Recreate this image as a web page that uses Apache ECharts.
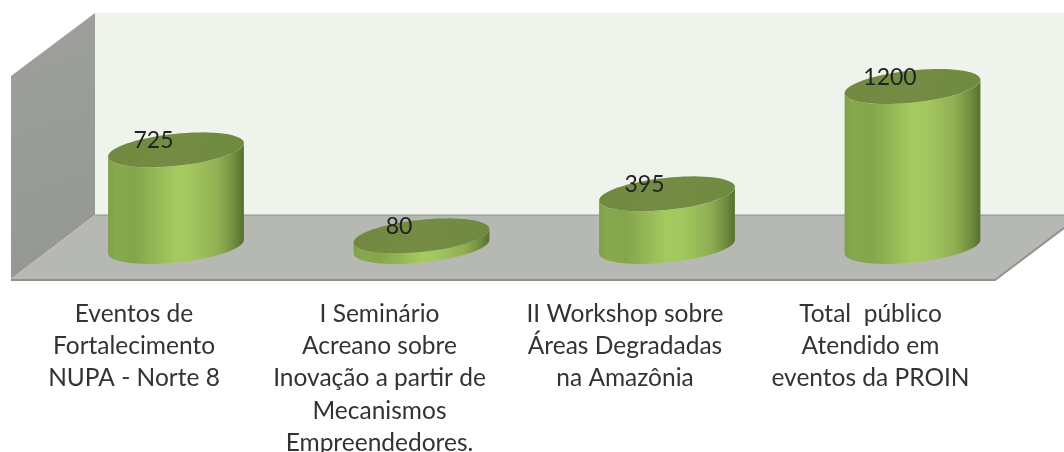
<!DOCTYPE html>
<html><head><meta charset="utf-8">
<style>html,body{margin:0;padding:0;background:#fff}#c{width:1064px;height:452px;filter:blur(0.5px)}</style>
<script src="https://cdn.jsdelivr.net/npm/echarts@6/dist/echarts.min.js"></script>
</head><body><div id="c"></div>
<script>
const categories = [
  "Eventos de\nFortalecimento\nNUPA - Norte 8",
  "I Seminário\nAcreano sobre\nInovação a partir de\nMecanismos\nEmpreendedores.",
  "II Workshop sobre\nÁreas Degradadas\nna Amazônia",
  "Total  público\nAtendido em\neventos da PROIN"
];
const values = [725, 80, 395, 1200];

const TILT = 6 * Math.PI / 180;
function ellipsePoint(cx, cy, a, b, t) {
  const x = a * Math.cos(t), y = b * Math.sin(t);
  return [cx + x * Math.cos(TILT) + y * Math.sin(TILT), cy - x * Math.sin(TILT) + y * Math.cos(TILT)];
}
function renderCylinder(params, api) {
  const i = api.value(0), v = api.value(1);
  const top = api.coord([i, v]), base = api.coord([i, 0]);
  const a = api.size([1, 0])[0] * 0.278, b = a * 0.235;
  const tan = Math.atan2(b * Math.sin(TILT), a * Math.cos(TILT));
  const tr = tan, tl = tan + Math.PI;
  const pts = [];
  const n = 72;
  for (let k = 0; k <= n; k++) pts.push(ellipsePoint(base[0], base[1], a, b, tr + (tl - tr) * k / n));
  pts.push(ellipsePoint(top[0], top[1], a, b, tl));
  for (let k = 1; k < n; k++) pts.push(ellipsePoint(top[0], top[1], a, b, tl + (tr - tl) * k / n));
  pts.push(ellipsePoint(top[0], top[1], a, b, tr));
  const lid = [];
  for (let k = 0; k < n; k++) lid.push(ellipsePoint(top[0], top[1], a, b, 2 * Math.PI * k / n));
  const side = new echarts.graphic.LinearGradient(0, 0, 1, 0, [
    {offset: 0, color: '#80a049'}, {offset: 0.06, color: '#87a94d'}, {offset: 0.2, color: '#84a54b'},
    {offset: 0.5, color: '#a5ca60'}, {offset: 0.6, color: '#a3c85f'}, {offset: 0.82, color: '#8fae52'},
    {offset: 0.93, color: '#708d3f'}, {offset: 1, color: '#54702d'}
  ]);
  const cap = new echarts.graphic.LinearGradient(0, 0, 1, 1, [
    {offset: 0, color: '#71893f'}, {offset: 0.5, color: '#748c43'}, {offset: 1, color: '#6f8a40'}
  ]);
  return {
    type: 'group',
    children: [
      {type: 'polygon', shape: {points: pts}, style: {fill: side}},
      {type: 'polygon', shape: {points: lid}, style: {fill: cap}},
      {type: 'text', x: top[0] - a * 0.33, y: top[1] - 9, style: {
        text: String(v), fill: '#222', font: '23px Lato', align: 'center', verticalAlign: 'middle'
      }}
    ]
  };
}
const chart = echarts.init(document.getElementById('c'), null, {renderer: 'canvas'});
chart.setOption({
  animation: false,
  backgroundColor: '#fff',
  graphic: {elements: [
    {type: 'polygon', z: 0, shape: {points: [[95, 13], [1064, 13], [1064, 215], [95, 215]]}, style: {fill: '#eef4eb'}},
    {type: 'polygon', z: 0, shape: {points: [[11, 76], [95, 13], [95, 215], [11, 279]]},
      style: {fill: new echarts.graphic.LinearGradient(0, 0, 1, 1, [{offset: 0, color: '#9ea09c'}, {offset: 1, color: '#959793'}])}},
    {type: 'polygon', z: 0, shape: {points: [[95, 215], [1064, 215], [1064, 228], [995, 279], [11, 279]]}, style: {fill: '#b6b8b4'}},
    {type: 'polyline', z: 1, shape: {points: [[95, 215], [1064, 215]]}, style: {stroke: '#909290', lineWidth: 1, fill: null}},
    {type: 'polyline', z: 1, shape: {points: [[11, 280], [995, 280], [1064, 228]]}, style: {stroke: '#8f918f', lineWidth: 2, fill: null}}
  ]},
  grid: [
    {left: 53.25, width: 982, top: 46.5, height: 200},
    {left: 11.25, width: 982, top: 298, height: 1}
  ],
  xAxis: [
    {type: 'category', gridIndex: 0, data: categories, show: false},
    {type: 'category', gridIndex: 1, axisLine: {show: false}, axisTick: {show: false}, position: 'top',
      data: categories,
      axisLabel: {show: true, interval: 0, inside: true, margin: 0, color: '#333', fontFamily: 'Lato', fontSize: 24.5, lineHeight: 32.2, verticalAlign: 'top', align: 'center'}}
  ],
  yAxis: [
    {type: 'value', gridIndex: 0, min: 0, max: 1500, show: false},
    {type: 'value', gridIndex: 1, show: false}
  ],
  series: [{
    type: 'custom', xAxisIndex: 0, yAxisIndex: 0, z: 3, clip: false, silent: true,
    renderItem: renderCylinder,
    encode: {x: 0, y: 1},
    data: values.map((v, i) => [i, v])
  }]
});
</script></body></html>
